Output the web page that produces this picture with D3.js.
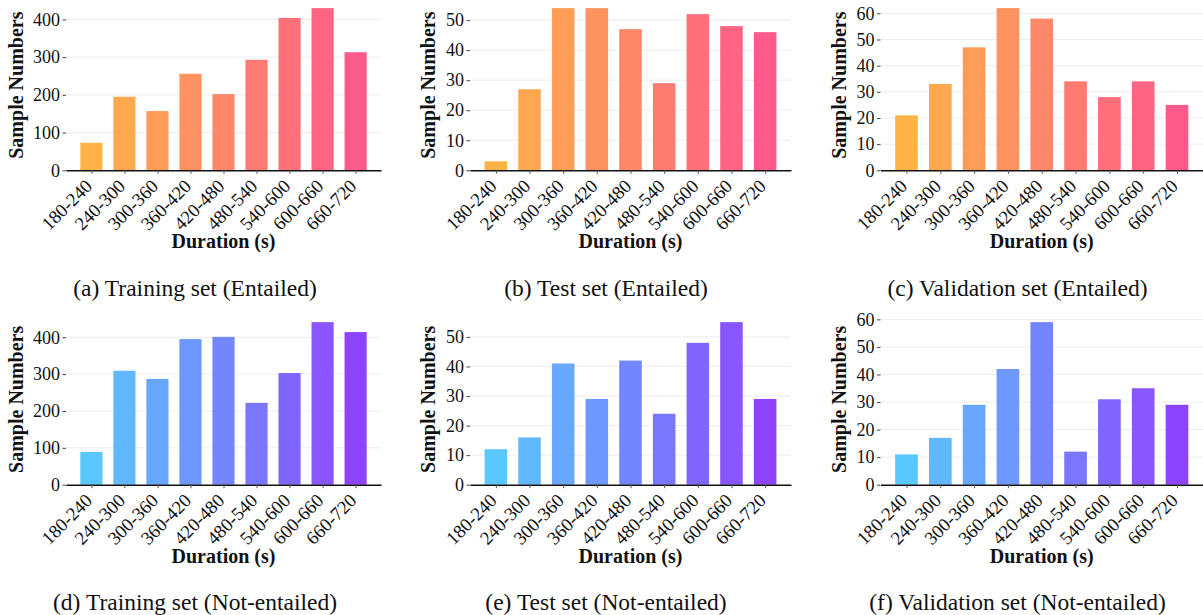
<!DOCTYPE html>
<head>
  <meta charset="utf-8">
  <script src="https://cdn.jsdelivr.net/npm/d3@7"></script>
  <style>
    body { margin: 0; background: #fff; }
    svg text { font-family: "Liberation Serif", "Times New Roman", serif; fill: #111; }
  </style>
</head>
<body>
<svg id="fig" width="1203" height="615"></svg>
<script>
var durations = ["180-240", "240-300", "300-360", "360-420", "420-480", "480-540", "540-600", "600-660", "660-720"]

var trainEntailed = [73, 195, 157, 256, 202, 293, 404, 430, 313]
var testEntailed  = [3, 27, 54, 54, 47, 29, 52, 48, 46]
var validEntailed = [21, 33, 47, 62, 58, 34, 28, 34, 25]
var trainNotEntailed = [89, 309, 287, 395, 401, 222, 303, 441, 414]
var testNotEntailed  = [12, 16, 41, 29, 42, 24, 48, 55, 29]
var validNotEntailed = [11, 17, 29, 42, 59, 12, 31, 35, 29]

var trainTicks = [0, 100, 200, 300, 400]
var testTicks  = [0, 10, 20, 30, 40, 50]
var validTicks = [0, 10, 20, 30, 40, 50, 60]

var captions = [
  "(a) Training set (Entailed)", "(b) Test set (Entailed)", "(c) Validation set (Entailed)",
  "(d) Training set (Not-entailed)", "(e) Test set (Not-entailed)", "(f) Validation set (Not-entailed)"
]

// layout
var cols = [
  { left: 66, right: 381, ylab: 23, cap: 195 },
  { left: 470, right: 791, ylab: 435, cap: 606 },
  { left: 880.5, right: 1203, ylab: 846, cap: 1017.5 }
]
var rows = [
  { top: 0, bottom: 170.3, colors: ["#ffb347", "#ff5a8c"] },
  { top: 314, bottom: 484.7, colors: ["#5ac8ff", "#8e44ff"] }
]

var panels = [
  { data: trainEntailed, ticks: trainTicks },
  { data: testEntailed, ticks: testTicks },
  { data: validEntailed, ticks: validTicks },
  { data: trainNotEntailed, ticks: trainTicks },
  { data: testNotEntailed, ticks: testTicks },
  { data: validNotEntailed, ticks: validTicks }
]

var svg = d3.select('#fig')
var barW = 0.67
var n = durations.length

panels.forEach(function (p, k) {
  var c = cols[k % 3], r = rows[Math.floor(k / 3)]
  var margin = 0.05 * (n - 1 + barW)
  var x = d3.scaleLinear()
            .domain([-barW / 2 - margin, n - 1 + barW / 2 + margin])
            .range([c.left, c.right])
  var y = d3.scaleLinear()
            .domain([0, d3.max(p.data) * 1.05])
            .range([r.bottom, r.top])
  var color = d3.interpolateRgb(r.colors[0], r.colors[1])
  var g = svg.append('g')

  // grid
  g.selectAll('line.grid').data(p.ticks.slice(1)).enter()
   .append('line')
   .attr('x1', c.left).attr('x2', c.right)
   .attr('y1', function (d) { return y(d) }).attr('y2', function (d) { return y(d) })
   .attr('stroke', '#ececec').attr('stroke-width', 1)

  g.selectAll('rect').data(p.data).enter()
   .append('rect')
   .attr('x', function (d, i) { return x(i - barW / 2) })
   .attr('width', x(barW) - x(0))
   .attr('y', function (d) { return y(d) })
   .attr('height', function (d) { return y(0) - y(d) })
   .attr('fill', function (d, i) { return color(i / (n - 1)) })

  var ya = g.append('g')
            .attr('transform', 'translate(' + c.left + ',0)')
            .call(d3.axisLeft(y).tickValues(p.ticks).tickSize(3.5).tickPadding(2.5))
  ya.select('.domain').remove()
  ya.selectAll('.tick line').attr('stroke', '#444')
  ya.selectAll('text').style('font-size', '18px')

  var xa = g.append('g')
            .attr('transform', 'translate(0,' + r.bottom + ')')
            .call(d3.axisBottom(x).tickValues(d3.range(n)).tickFormat(function (i) { return durations[i] })
                  .tickSize(3.5).tickSizeOuter(0))
  xa.select('.domain').attr('stroke', '#111').attr('stroke-width', 1.4)
  xa.selectAll('.tick line').attr('stroke', '#555')
  xa.selectAll('text')
    .attr('x', 0).attr('y', 0).attr('dy', null)
    .attr('text-anchor', 'end')
    .attr('transform', 'translate(1.5,17) rotate(-45)')
    .style('font-size', '18.7px')

  g.append('text')
   .attr('x', (c.left + c.right) / 2).attr('y', r.bottom + 78)
   .attr('text-anchor', 'middle')
   .style('font-size', '20px').style('font-weight', 'bold')
   .text('Duration (s)')

  g.append('text')
   .attr('transform', 'translate(' + c.ylab + ',' + (r.top + r.bottom) / 2 + ') rotate(-90)')
   .attr('text-anchor', 'middle')
   .style('font-size', '20px').style('font-weight', 'bold')
   .text('Sample Numbers')

  g.append('text')
   .attr('x', c.cap).attr('y', r.bottom + 125.7)
   .attr('text-anchor', 'middle')
   .style('font-size', '23.5px')
   .text(captions[k])
})
</script>
</body>
